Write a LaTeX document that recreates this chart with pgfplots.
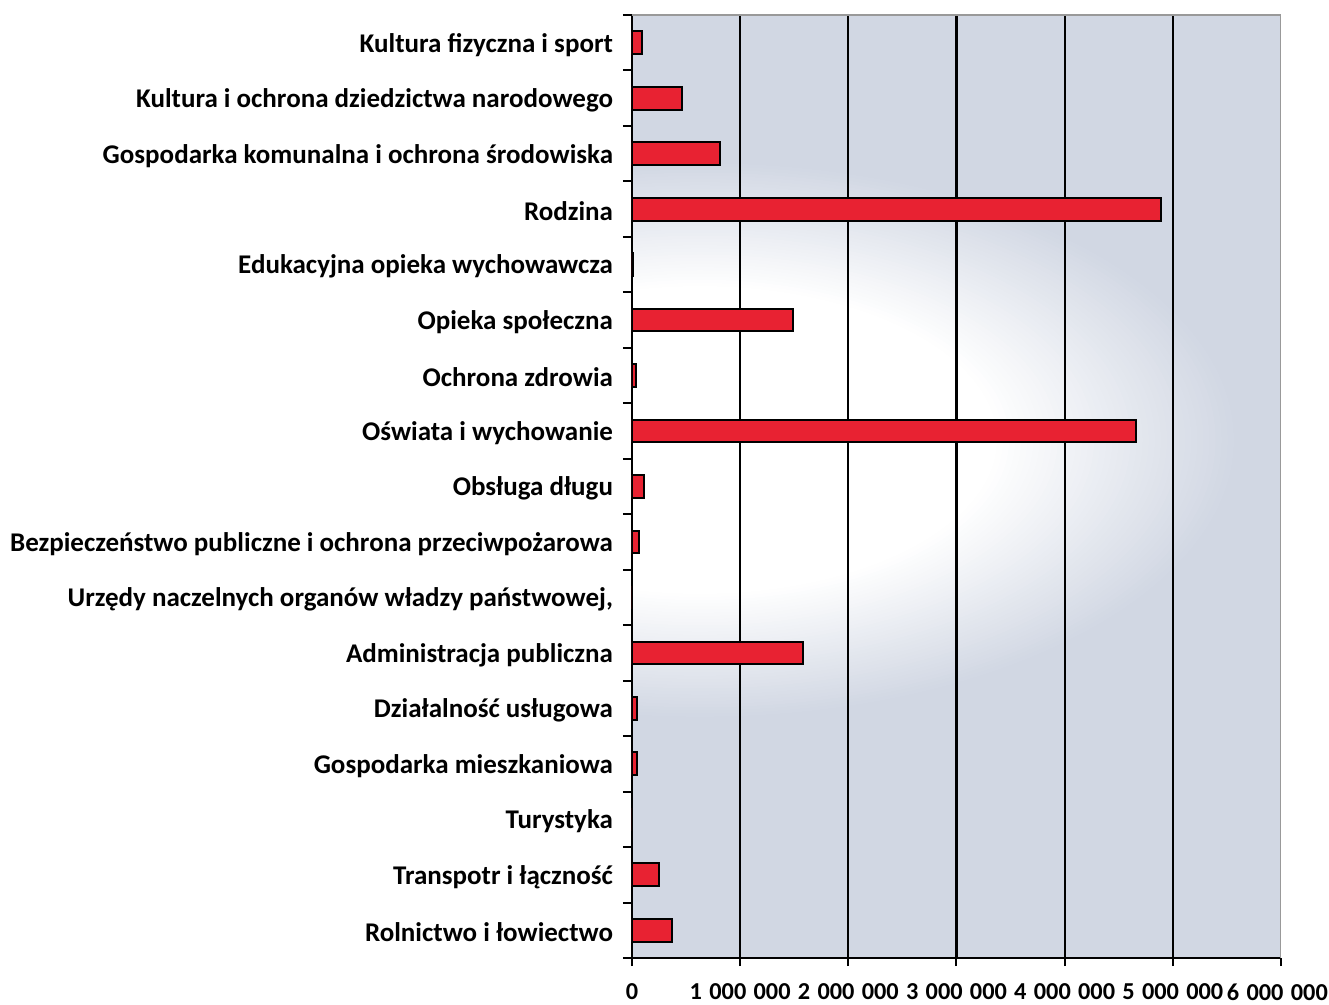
\documentclass[border=0pt]{standalone}
\usepackage{pgfplots}
\pgfplotsset{compat=1.18}
\usepackage{fontspec}
\setmainfont{Carlito}
\definecolor{bggray}{RGB}{209,215,227}
\definecolor{barred}{RGB}{232,34,50}
\newcommand\gs{\hspace{0.3em}}
\begin{document}
\begin{tikzpicture}
\useasboundingbox (-316bp,-23.5bp) rectangle (348.5bp,479bp);
\begin{scope}
\clip (0,0) rectangle (324.5bp,471.5bp);
\fill[bggray] (0,0) rectangle (324.5bp,471.5bp);
\foreach \i in {0,...,40} {
  \pgfmathsetmacro\s{1-\i/40*0.45}
  \pgfmathsetmacro\c{100*\i/40}
  \fill[white!\c!bggray] (34bp,259bp) ellipse [x radius=\s*270bp, y radius=\s*140bp];
}
\end{scope}
\begin{axis}[
  at={(0,0)}, anchor=south west,
  scale only axis, width=324.5bp, height=471.5bp,
  xmin=0, xmax=6000000, ymin=-0.5, ymax=16.5,
  axis lines*=left,
  axis line style={black, line width=1bp},
  scaled x ticks=false,
  xtick={0,1000000,2000000,3000000,4000000,5000000},
  xticklabels={0,1\gs000\gs000,2\gs000\gs000,3\gs000\gs000,4\gs000\gs000,5\gs000\gs000},
  extra x ticks={6000000},
  extra x tick labels={6\gs000\gs000},
  extra x tick style={grid=none, xticklabel style={xshift=-1.8bp}},
  xmajorgrids,
  grid style={black, line width=1.1bp},
  ytick={0,...,16},
  yticklabels={Rolnictwo i łowiectwo, Transpotr i łączność, Turystyka, Gospodarka mieszkaniowa, Działalność usługowa, Administracja publiczna, {Urzędy naczelnych organów władzy państwowej,}, Bezpieczeństwo publiczne i ochrona przeciwpożarowa, Obsługa długu, Oświata i wychowanie, Ochrona zdrowia, Opieka społeczna, Edukacyjna opieka wychowawcza, Rodzina, Gospodarka komunalna i ochrona środowiska, Kultura i ochrona dziedzictwa narodowego, Kultura fizyczna i sport},
  minor ytick={-0.5,0.5,...,16.5},
  tick align=outside,
  major tick length=4bp, minor tick length=4.5bp,
  every major y tick/.style={draw=none},
  every minor y tick/.style={black, line width=1bp},
  every major x tick/.style={black, line width=1bp},
  ticklabel style={text=black},
  yticklabel style={xshift=-2bp, yshift=-1bp, font=\bfseries\fontsize{13.55}{15}\selectfont},
  xticklabel style={yshift=-5.5bp, font=\bfseries\fontsize{12.2}{14}\selectfont},
]
\addplot[xbar, bar width=0.41, bar shift=0pt, fill=barred, draw=black, line width=1bp]
coordinates {
(370000,0) (250000,1) (0,2) (50000,3) (45000,4) (1580000,5) (0,6) (65000,7) (115000,8) (4660000,9) (40000,10) (1490000,11) (12000,12) (4890000,13) (810000,14) (460000,15) (90000,16)
};
\draw[gray!80, line width=0.6bp] (rel axis cs:0,1) -- (rel axis cs:1,1) -- (rel axis cs:1,0);
\end{axis}
\end{tikzpicture}
\end{document}
